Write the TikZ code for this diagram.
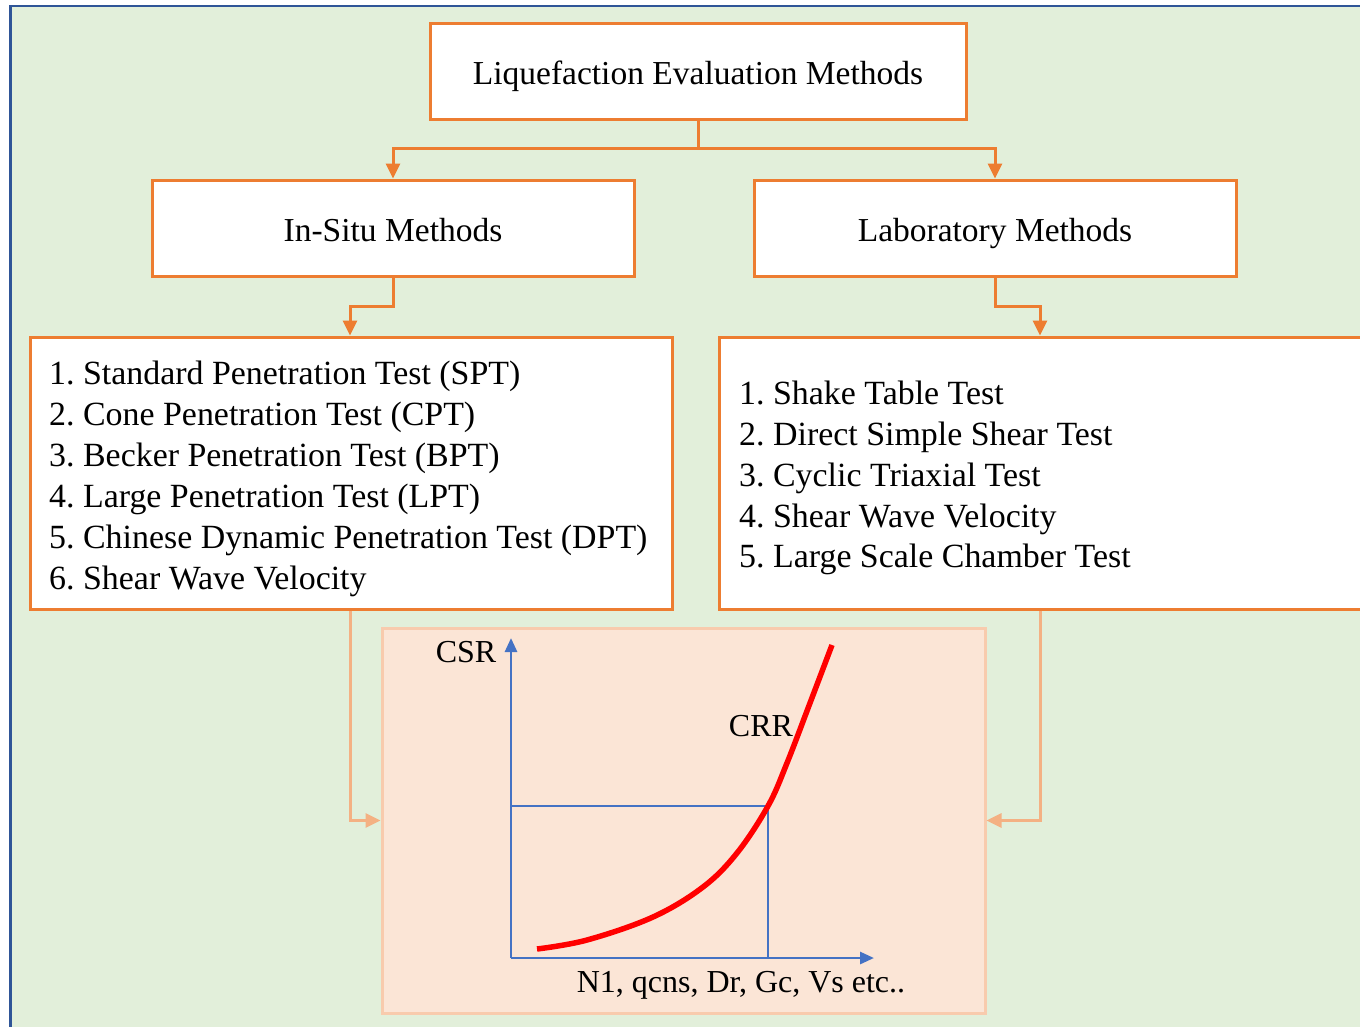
\documentclass[tikz,border=0pt]{standalone}
\usepackage{fontspec}
\setmainfont{Liberation Serif}
\usetikzlibrary{arrows.meta}
\frenchspacing
\definecolor{bggreen}{RGB}{226,239,218}
\definecolor{frameblue}{RGB}{47,85,151}
\definecolor{orng}{RGB}{237,125,49}
\definecolor{lorng}{RGB}{244,177,131}
\definecolor{peach}{RGB}{251,229,214}
\definecolor{peachline}{RGB}{248,203,173}
\definecolor{axblue}{RGB}{68,114,196}
\tikzset{
  box/.style={draw=orng, line width=3pt, fill=white, inner sep=0pt},
  bigtxt/.style={font=\fontsize{33.5}{40}\selectfont, text height=28pt, text depth=2pt},
  item/.style={anchor=base west, inner sep=0pt, font=\fontsize{33.9}{40}\selectfont},
  conn/.style={draw=orng, line width=3pt, -{Triangle[length=15pt,width=14pt]}},
  lconn/.style={draw=lorng, line width=3pt, -{Triangle[length=15pt,width=14pt]}},
  axis/.style={draw=axblue, line width=2.8pt, -{Triangle[length=14pt,width=12pt]}},
  guide/.style={draw=axblue, line width=2.8pt},
  charttxt/.style={inner sep=0pt, font=\fontsize{32}{38}\selectfont}
}
\begin{document}
\begin{tikzpicture}[x=1pt,y=-1pt]
\clip (0,0) rectangle (1360,1026);
\fill[white] (0,0) rectangle (1360,1026);
\filldraw[fill=bggreen, draw=frameblue, line width=2.5pt] (10.5,6) rectangle (1400,1060);

% boxes
\node[box, minimum width=536pt, minimum height=96pt, bigtxt] (top) at (698,71) {Liquefaction Evaluation Methods};
\node[box, minimum width=482pt, minimum height=96pt, bigtxt] (insitu) at (393,228) {In-Situ Methods};
\node[box, minimum width=482pt, minimum height=96pt, bigtxt] (lab) at (995,228) {Laboratory Methods};
\node[box, minimum width=642pt, minimum height=272pt] (leftlist) at (351,473) {};
\node[box, minimum width=700pt, minimum height=272pt] (rightlist) at (1069,473) {};

% list texts
\node[item] (l1) at (49,384) {1. Standard Penetration Test (SPT)};
\node[item] (l2) at (49,425) {2. Cone Penetration Test (CPT)};
\node[item] (l3) at (49,466) {3. Becker Penetration Test (BPT)};
\node[item] (l4) at (49,507) {4. Large Penetration Test (LPT)};
\node[item] (l5) at (49,548) {5. Chinese Dynamic Penetration Test (DPT)};
\node[item] (l6) at (49,589) {6. Shear Wave Velocity};
\node[item] (r1) at (739,404) {1. Shake Table Test};
\node[item] (r2) at (739,445) {2. Direct Simple Shear Test};
\node[item] (r3) at (739,486) {3. Cyclic Triaxial Test};
\node[item] (r4) at (739,527) {4. Shear Wave Velocity};
\node[item] (r5) at (739,567) {5. Large Scale Chamber Test};

% chart box
\node[draw=peachline, fill=peach, line width=3pt, minimum width=603pt, minimum height=385pt, inner sep=0pt] (chart) at (683.5,820.5) {};

% connectors
\coordinate (tj) at (698,148);
\coordinate (lj) at (350,306);
\coordinate (rj) at (1040,306);
\draw[conn] (top.south) -- (tj) -| (insitu.north);
\draw[conn] (tj) -| (lab.north);
\draw[conn] (insitu.south) |- (lj) -- (lj |- leftlist.north);
\draw[conn] (lab.south) |- (rj) -- (rj |- rightlist.north);
\draw[lconn] (lj |- leftlist.south) |- (chart.west);
\draw[lconn] (rj |- rightlist.south) |- (chart.east);

% chart content
\coordinate (o) at (511,958);
\coordinate (ytop) at (511,638);
\coordinate (xend) at (874,958);
\coordinate (p) at (768,806);
\draw[guide] (o |- p) -- (p) -- (p |- o);
\draw[axis] (o) -- (ytop);
\draw[axis] (o) -- (xend);
\draw[red, line width=5.5pt] plot[smooth, tension=0.6] coordinates {(537,949) (587,940) (653,917) (703,887) (737,853) (768,806) (787,763) (810,703) (832,645)};
\node[charttxt] (csr) at (466,652) {CSR};
\node[charttxt] (crr) at (761,726) {CRR};
\node[charttxt] (xlab) at (741,985) {N1, qcns, Dr, Gc, Vs etc..};
\end{tikzpicture}
\end{document}
